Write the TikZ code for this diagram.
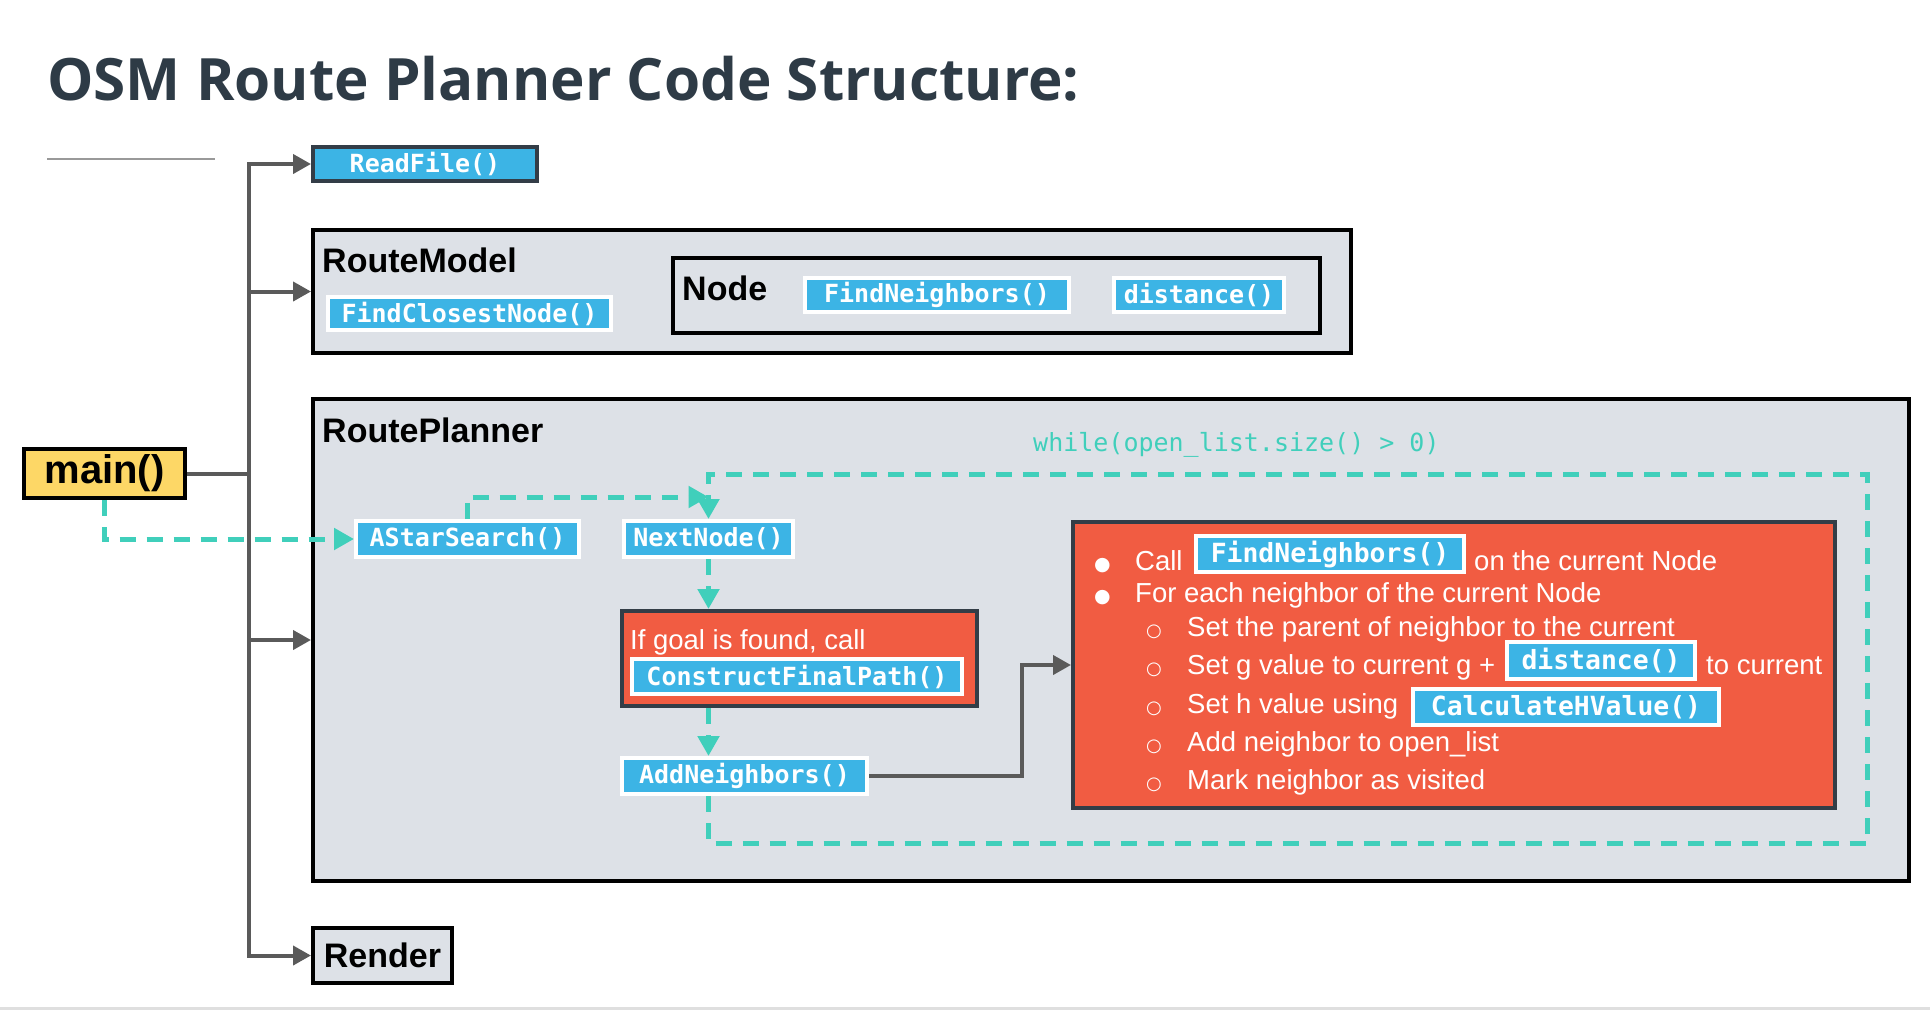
\documentclass[tikz,border=0pt]{standalone}
\usepackage{fontspec}
\setmainfont{Liberation Sans}
\newfontfamily\codefont{DejaVu Sans Mono}
\newfontfamily\titlefont{Open Sans}
\newfontfamily\symfont{DejaVu Sans}
\usetikzlibrary{arrows.meta}
\definecolor{codeblue}{HTML}{3CB4E5}
\definecolor{panelgray}{HTML}{DDE1E7}
\definecolor{redbox}{HTML}{F15C42}
\definecolor{slate}{HTML}{333D47}
\definecolor{mainyellow}{HTML}{FDD766}
\definecolor{loopteal}{HTML}{40CFBB}
\definecolor{linkgray}{HTML}{5A5A5A}
\definecolor{titlecol}{HTML}{2E3B46}
\newcommand\bulfull{\makebox[41pt][l]{\symfont\fontsize{19}{19}\selectfont ●}}
\newcommand\bulopen{\makebox[41pt][l]{\symfont\fontsize{18}{18}\selectfont ○}}
\begin{document}
\begin{tikzpicture}[x=1pt,y=-1pt,
    panel/.style={draw=black,line width=4pt,fill=panelgray,inner sep=0pt},
    lbl/.style={anchor=west,inner sep=0pt,font=\bfseries\fontsize{34}{40}\selectfont},
    code/.style={draw=white,line width=4pt,fill=codeblue,text=white,inner sep=0pt,
      font=\codefont\bfseries\fontsize{25}{30}\selectfont},
    inl/.style={code,font=\codefont\bfseries\fontsize{26.4}{30}\selectfont},
    redpanel/.style={draw=slate,line width=4pt,fill=redbox,inner sep=0pt},
    txt/.style={anchor=base west,inner sep=0pt,text=white,font=\fontsize{27.5}{33}\selectfont},
    link/.style={draw=linkgray,line width=4pt,-{Triangle[length=18pt,width=19pt]}},
    flow/.style={draw=loopteal,line width=5pt,dash pattern=on 16pt off 11pt,
      -{Triangle[length=20pt,width=21pt]}}]
  \useasboundingbox (0,0) rectangle (1930,1010);
  \draw[gray!25,line width=3pt] (0,1008.5) -- (1930,1008.5);
  % title
  \node[anchor=base west,inner sep=0pt,text=titlecol,font=\titlefont\bfseries\fontsize{58.4}{62}\selectfont]
    (title) at (47,100) {OSM Route Planner Code Structure:};
  \draw[gray!80,line width=1.5pt] (47,159) -- (215,159);
  % boxes
  \node[code,draw=slate,minimum width=224pt,minimum height=34pt] (readfile) at (425,164) {ReadFile()};
  \node[panel,minimum width=1038pt,minimum height=123pt] (routemodel) at (832,291.5) {};
  \node[lbl] (rmlabel) at (322,260) {RouteModel};
  \node[code,minimum width=283pt,minimum height=33pt] (findclosest) at (469.5,313.5) {FindClosestNode()};
  \node[panel,minimum width=647pt,minimum height=75pt] (nodebox) at (996.5,295.5) {};
  \node[lbl] (nodelabel) at (682,288) {Node};
  \node[code,minimum width=264pt,minimum height=34pt] (findnb) at (937,295) {FindNeighbors()};
  \node[code,minimum width=170pt,minimum height=34pt] (distance) at (1199,295) {distance()};
  \node[panel,minimum width=1596pt,minimum height=482pt] (routeplanner) at (1111,640) {};
  \node[lbl] (rplabel) at (322,430) {RoutePlanner};
  \node[panel,fill=mainyellow,minimum width=161pt,minimum height=49pt,
    font=\bfseries\fontsize{40}{44}\selectfont] (main) at (104.5,473.5) {\raisebox{-3pt}{main()}};
  \node[panel,minimum width=139pt,minimum height=55pt,
    font=\bfseries\fontsize{34}{40}\selectfont] (render) at (382.5,955.5) {\raisebox{-3pt}{Render}};
  \node[code,minimum width=223pt,minimum height=36pt] (astar) at (467.5,539) {AStarSearch()};
  \node[code,minimum width=169pt,minimum height=36pt] (nextnode) at (708.5,539) {NextNode()};
  \node[redpanel,minimum width=355pt,minimum height=95pt] (ifgoal) at (799.5,658.5) {};
  \node[txt] (goaltext) at (630,649) {If goal is found, call};
  \node[code,minimum width=330pt,minimum height=35pt] (constructfp) at (797,676.5) {ConstructFinalPath()};
  \node[code,minimum width=245pt,minimum height=36pt] (addnb) at (744.5,776) {AddNeighbors()};
  \node[anchor=west,inner sep=0pt,text=loopteal,font=\codefont\fontsize{25}{30}\selectfont]
    (whilecond) at (1033,445) {while(open\_list.size() > 0)};
  % neighbour steps
  \node[redpanel,minimum width=762pt,minimum height=286pt] (steps) at (1454,665) {};
  \node[txt] (s1) at (1094,570.5) {\bulfull Call};
  \node[inl,minimum width=268pt,minimum height=36pt] (findnbcall) at (1330,554) {FindNeighbors()};
  \node[txt] (s1b) at (1474,570.5) {on the current Node};
  \node[txt] (s2) at (1094,602.5) {\bulfull For each neighbor of the current Node};
  \node[txt] (s3) at (1146,636) {\bulopen Set the parent of neighbor to the current};
  \node[txt] (s4) at (1146,674.5) {\bulopen Set g value to current g +};
  \node[inl,minimum width=188pt,minimum height=37pt] (distcall) at (1601,660.5) {distance()};
  \node[txt] (s4b) at (1706,674.5) {to current};
  \node[txt] (s5) at (1146,713) {\bulopen Set h value using};
  \node[inl,minimum width=306pt,minimum height=36pt] (hcall) at (1566,707) {CalculateHValue()};
  \node[txt] (s6) at (1146,751.5) {\bulopen Add neighbor to open\_list};
  \node[txt] (s7) at (1146,789.5) {\bulopen Mark neighbor as visited};
  % connectors
  \coordinate (trunk) at (249,473.5);
  \coordinate (elbow) at (1022,776);
  \coordinate (ajoin) at (708.5,497);
  \coordinate (loopsw) at (708.5,843);
  \coordinate (loopne) at (1867,474);
  \begin{scope}
    \draw[link,-] (main.east) -- (trunk);
    \draw[link] (trunk) |- (readfile.west);
    \draw[link] (trunk) |- (routemodel.west);
    \draw[link] (trunk) |- (routeplanner.west);
    \draw[link] (trunk) |- (render.west);
    \draw[link] (addnb.east) -- (elbow) |- (steps.west);
    \draw[flow] (main.south) |- (astar.west);
    \draw[flow] (astar.north) |- (ajoin);
    \draw[flow] (addnb.south -| nextnode.south) -- (loopsw) -| (loopne) -| (nextnode.north);
    \draw[flow] (nextnode.south) -- (nextnode.south |- ifgoal.north);
    \draw[flow] (ifgoal.south -| nextnode.south) -- (addnb.north -| nextnode.south);
  \end{scope}
\end{tikzpicture}
\end{document}
